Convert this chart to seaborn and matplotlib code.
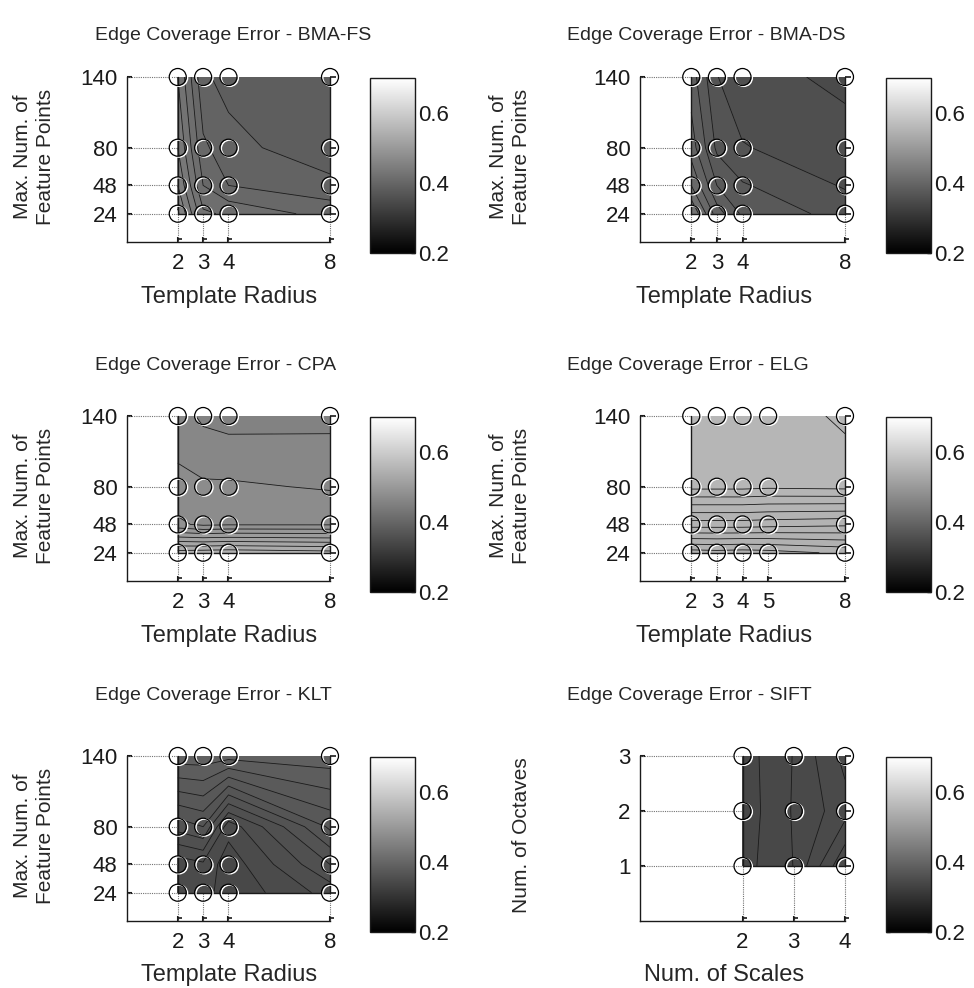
import numpy as np
import pandas as pd
import matplotlib
matplotlib.use("Agg")
import matplotlib.pyplot as plt
from matplotlib.colors import Normalize
from matplotlib.cm import ScalarMappable
from matplotlib.transforms import ScaledTranslation
import seaborn as sns

# ---------------------------------------------------------------- data
template_radius = [2, 3, 4, 8]
template_radius_elg = [2, 3, 4, 5, 8]
max_feature_points = [24, 48, 80, 140]
num_scales = [2, 3, 4]
num_octaves = [1, 2, 3]

# rows follow max_feature_points (24, 48, 80, 140), columns the template radius
err_bma_fs = [
    [0.462, 0.422, 0.418, 0.406],
    [0.450, 0.410, 0.400, 0.3935],
    [0.440, 0.402, 0.394, 0.382],
    [0.430, 0.392, 0.386, 0.381],
]
err_bma_ds = [
    [0.430, 0.395, 0.378, 0.366],
    [0.410, 0.380, 0.371, 0.359],
    [0.395, 0.368, 0.3605, 0.355],
    [0.385, 0.3603, 0.355, 0.347],
]
err_cpa = [
    [0.545, 0.546, 0.547, 0.544],
    [0.482, 0.478, 0.479, 0.479],
    [0.4725, 0.4715, 0.4715, 0.469],
    [0.465, 0.458, 0.456, 0.457],
]
err_elg = [
    [0.5455, 0.5456, 0.5455, 0.5456, 0.5462],
    [0.5505, 0.5505, 0.5505, 0.5504, 0.5502],
    [0.5553, 0.5553, 0.5553, 0.5552, 0.5553],
    [0.5553, 0.5554, 0.5554, 0.5553, 0.5549],
]
err_klt = [
    [0.347, 0.348, 0.341, 0.352],
    [0.347, 0.349, 0.342, 0.360],
    [0.362, 0.365, 0.347, 0.371],
    [0.388, 0.388, 0.387, 0.388],
]
# rows follow num_octaves (1, 2, 3), columns the number of scales
err_sift = [
    [0.3392, 0.34205, 0.3498],
    [0.3388, 0.3422, 0.3452],
    [0.3390, 0.3421, 0.3466],
]

colorbar_ticks = [0.2, 0.4, 0.6]

# ---------------------------------------------------------------- style
sns.set_theme(style="white")
plt.rcParams["font.family"] = ["Liberation Sans", "DejaVu Sans"]

W, H = 974, 988
fig = plt.figure(figsize=(W / 100, H / 100), dpi=100)

CMAP = plt.get_cmap("gray")
NORM = Normalize(vmin=0.2, vmax=0.7)
TICK_FS = 16
XLABEL_FS = 17
YLABEL_FS = 15
TITLE_FS = 14


def box(x0, y0, x1, y1):
    """pixel box (top-left origin) -> figure-fraction rectangle"""
    return [x0 / W, 1 - y1 / H, (x1 - x0) / W, (y1 - y0) / H]


col_axes_x = [(127, 330), (640, 845)]
col_cbar_x = [(370, 415), (886, 931)]
row_axes_y = [(77, 242), (416, 581), (756, 921)]
row_cbar_y = [(78, 253), (417, 592), (757, 932)]
col_title_x = [95, 567]
row_title_y = [35, 365, 695]
col_xlabel_x = [229, 724]
row_xlabel_y = [297, 636, 975]
col_ylabel_x = [34, 510]


def ring_layer(ax, pts, edge, lw, transform=None, z=5):
    kws = dict(data=pts, x="x", y="y", ax=ax, s=150, color="none",
               edgecolor=edge, linewidth=lw, zorder=z, legend=False,
               clip_on=False)
    if transform is not None:
        kws["transform"] = transform
    sns.scatterplot(**kws)
    ax.collections[-1].set_facecolor("none")


def draw_panel(col, row, xs, ys, z, step, title, xlabel, ylabel, xlim, ylim):
    ax = fig.add_axes(box(col_axes_x[col][0], row_axes_y[row][0],
                          col_axes_x[col][1], row_axes_y[row][1]))
    cax = fig.add_axes(box(col_cbar_x[col][0], row_cbar_y[row][0],
                           col_cbar_x[col][1], row_cbar_y[row][1]))
    z = np.asarray(z, dtype=float)
    X, Y = np.meshgrid(xs, ys)

    lo = np.floor(z.min() / step + 1e-9) * step
    hi = np.ceil(z.max() / step - 1e-9) * step
    levels = np.round(np.arange(lo, hi + step / 2, step), 6)
    ax.contourf(X, Y, z, levels=levels, cmap=CMAP, norm=NORM, zorder=1)
    ax.contour(X, Y, z, levels=levels[1:-1], colors="k", linewidths=0.6, zorder=2)

    # border of the sampled region
    ax.plot([xs[0], xs[0], xs[-1], xs[-1]], [ys[-1], ys[0], ys[0], ys[-1]],
            color="k", lw=1.0, zorder=3, clip_on=False)

    # dotted guides from the axes to the sampled grid
    for y in ys:
        ax.plot([xlim[0], xs[0]], [y, y], color="0.45", lw=0.8,
                ls=(0, (1, 1)), zorder=1.5, clip_on=False)
    for x in xs:
        ax.plot([x, x], [ylim[0], ys[0]], color="0.45", lw=0.8,
                ls=(0, (1, 1)), zorder=1.5, clip_on=False)
    ax.plot([xs[-1]] * len(ys), ys, ls="none", marker=1, ms=4, mew=1.2,
            color="k", zorder=4, clip_on=False)
    # small flags on top of the inward x ticks
    lift = ScaledTranslation(0, 3.5 / 100, fig.dpi_scale_trans)
    ax.plot(xs, [ylim[0]] * len(xs), ls="none", marker=1, ms=3, mew=1.2,
            color="k", zorder=4, clip_on=False, transform=ax.transData + lift)

    # sample markers: a white ring slightly offset under a black ring
    pts = pd.DataFrame({"x": X.ravel(), "y": Y.ravel()})
    shift = ScaledTranslation(1.3 / 100, -0.8 / 100, fig.dpi_scale_trans)
    ring_layer(ax, pts, "white", 1.1, transform=ax.transData + shift, z=5)
    ring_layer(ax, pts, "black", 0.9, z=6)

    ax.set_xlim(*xlim)
    ax.set_ylim(*ylim)
    ax.set_xticks(xs)
    ax.set_yticks(ys)
    ax.set_xlabel("")
    ax.set_ylabel("")
    ax.tick_params(axis="both", direction="in", length=3.5, width=1.5,
                   labelsize=TICK_FS, colors="k", bottom=True, left=True)
    ax.tick_params(axis="x", pad=8)
    ax.tick_params(axis="y", pad=7)
    ax.set_facecolor("white")
    sns.despine(ax=ax)
    for side in ("left", "bottom"):
        ax.spines[side].set_color("k")
        ax.spines[side].set_linewidth(1.0)

    cb = fig.colorbar(ScalarMappable(norm=NORM, cmap=CMAP), cax=cax,
                      ticks=colorbar_ticks)
    cb.outline.set_edgecolor("k")
    cb.outline.set_linewidth(1.0)
    cax.tick_params(direction="in", left=True, right=True, length=3,
                    width=1.0, labelsize=TICK_FS, colors="k", pad=2)

    fig.text(col_title_x[col] / W, 1 - row_title_y[row] / H, title,
             ha="left", va="center", fontsize=TITLE_FS)
    fig.text(col_xlabel_x[col] / W, 1 - row_xlabel_y[row] / H, xlabel,
             ha="center", va="center", fontsize=XLABEL_FS)
    ycenter = 1 - ((row_axes_y[row][0] + row_axes_y[row][1]) / 2 - 3) / H
    fig.text(col_ylabel_x[col] / W, ycenter, ylabel, rotation=90,
             ha="center", va="center", fontsize=YLABEL_FS, linespacing=1.25)
    return ax


fp_label = "Max. Num. of\nFeature Points"
draw_panel(0, 0, template_radius, max_feature_points, err_bma_fs, 0.01,
           "Edge Coverage Error - BMA-FS", "Template Radius", fp_label, (0, 8), (0, 140))
draw_panel(1, 0, template_radius, max_feature_points, err_bma_ds, 0.01,
           "Edge Coverage Error - BMA-DS", "Template Radius", fp_label, (0, 8), (0, 140))
draw_panel(0, 1, template_radius, max_feature_points, err_cpa, 0.01,
           "Edge Coverage Error - CPA", "Template Radius", fp_label, (0, 8), (0, 140))
draw_panel(1, 1, template_radius_elg, max_feature_points, err_elg, 0.001,
           "Edge Coverage Error - ELG", "Template Radius", fp_label, (0, 8), (0, 140))
draw_panel(0, 2, template_radius, max_feature_points, err_klt, 0.005,
           "Edge Coverage Error - KLT", "Template Radius", fp_label, (0, 8), (0, 140))
draw_panel(1, 2, num_scales, num_octaves, err_sift, 0.002,
           "Edge Coverage Error - SIFT", "Num. of Scales", "\nNum. of Octaves", (0, 4), (0, 3))

fig.savefig("out.png", dpi=100, facecolor="white")
